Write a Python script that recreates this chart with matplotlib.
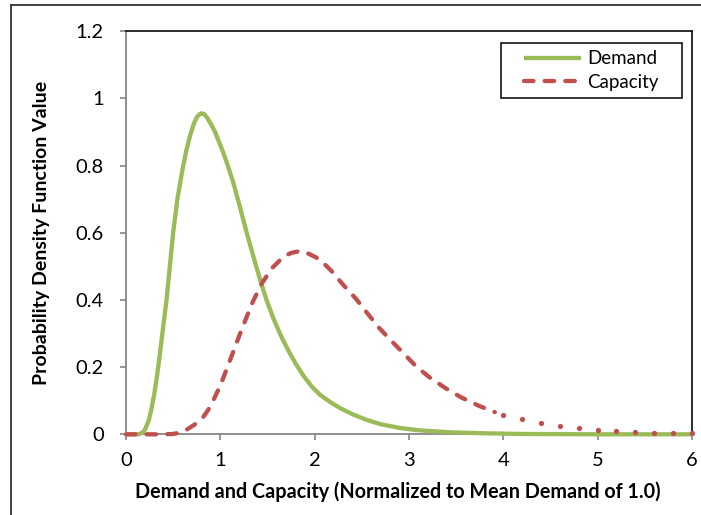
import matplotlib.pyplot as plt
from matplotlib.lines import Line2D
from matplotlib.patches import Rectangle

plt.rcParams['font.family'] = ['Lato', 'DejaVu Sans']

# values
demand_x = [0, 0.13, 0.17, 0.2, 0.24, 0.27, 0.30, 0.33, 0.36, 0.39, 0.43, 0.465, 0.50, 0.545, 0.60,
            0.64, 0.68, 0.72, 0.75, 0.78, 0.80, 0.83, 0.86, 0.90, 0.94, 0.98, 1.03, 1.08, 1.14, 1.21,
            1.28, 1.35, 1.42, 1.49, 1.56, 1.64, 1.72, 1.80, 1.88, 1.97, 2.06, 2.17, 2.27, 2.4, 2.55,
            2.7, 2.9, 3.1, 3.44, 3.8, 4.2, 5.0, 6.0]
demand_y = [0, 0, 0.004, 0.013, 0.040, 0.075, 0.12, 0.175, 0.24, 0.31, 0.40, 0.50, 0.60, 0.70, 0.79,
            0.845, 0.89, 0.925, 0.944, 0.953, 0.956, 0.953, 0.943, 0.924, 0.903, 0.875, 0.84, 0.80, 0.747, 0.675,
            0.60, 0.53, 0.462, 0.40, 0.347, 0.295, 0.25, 0.21, 0.175, 0.142, 0.117, 0.095, 0.078, 0.06, 0.043,
            0.03, 0.019, 0.012, 0.006, 0.003, 0.001, 0, 0]

capacity_x = [0, 0.2, 0.4, 0.5, 0.57, 0.65, 0.75, 0.82, 0.87, 0.91, 1.0, 1.07, 1.14, 1.21, 1.28,
              1.35, 1.44, 1.545, 1.67, 1.75, 1.83, 1.92, 2.02, 2.10, 2.18, 2.30, 2.44, 2.56, 2.68,
              2.81, 2.95, 3.08, 3.23, 3.39, 3.56, 3.74, 3.91]
capacity_y = [0, 0, 0, 0.001, 0.005, 0.015, 0.033, 0.052, 0.072, 0.092, 0.145, 0.196, 0.248, 0.30, 0.35,
              0.398, 0.449, 0.494, 0.529, 0.540, 0.545, 0.540, 0.526, 0.508, 0.486, 0.446, 0.403, 0.36, 0.318,
              0.279, 0.239, 0.201, 0.167, 0.137, 0.109, 0.085, 0.066]
# the tail of the capacity curve shows up as single dots
capacity_tail_x = [4.0, 4.2, 4.4, 4.6, 4.8, 5.0, 5.2, 5.4, 5.6, 5.8, 6.0]
capacity_tail_y = [0.057, 0.045, 0.034, 0.026, 0.019, 0.014, 0.010, 0.007, 0.005, 0.004, 0.003]

x_ticks = [0, 1, 2, 3, 4, 5, 6]
y_ticks = [0, 0.2, 0.4, 0.6, 0.8, 1, 1.2]
y_tick_labels = ['0', '0.2', '0.4', '0.6', '0.8', '1', '1.2']

green = '#9BBB59'
red = '#C0504D'

fig = plt.figure(figsize=(7.01, 5.15), dpi=100)
ax = fig.add_axes([0.1797, 0.1567, 0.8074, 0.7825])

ax.plot(demand_x, demand_y, color=green, lw=3.1, label='Demand', zorder=5, clip_on=False,
        solid_capstyle='butt', solid_joinstyle='round')
ax.plot(capacity_x, capacity_y, color=red, lw=3.1, label='Capacity', zorder=6, clip_on=False,
        dashes=(2.2, 2.6), dash_capstyle='round')
ax.plot(capacity_tail_x, capacity_tail_y, color=red, lw=0, marker='o', ms=3.8, mec='none',
        zorder=6, clip_on=False)

ax.set_xlim(0, 6)
ax.set_ylim(0, 1.2)
ax.set_xticks(x_ticks)
ax.set_yticks(y_ticks)
ax.set_yticklabels(y_tick_labels)
ax.tick_params(direction='out', length=4, width=1.2, color='#868686', labelsize=14.5)
ax.tick_params(axis='x', pad=9)
ax.tick_params(axis='y', pad=12)

for s in ['left', 'bottom']:
    ax.spines[s].set_color('#868686')
    ax.spines[s].set_linewidth(1.3)
for s in ['top', 'right']:
    ax.spines[s].set_color('#1a1a1a')
    ax.spines[s].set_linewidth(1.3)

ax.set_xlabel('Demand and Capacity (Normalized to Mean Demand of 1.0)', fontsize=14.2, fontweight='bold')
ax.xaxis.label.set_va('center')
ax.xaxis.set_label_coords(0.48, -0.143)
ax.set_ylabel('Probability Density Function Value', fontsize=14, fontweight='bold')
ax.yaxis.label.set_va('center')
ax.yaxis.set_label_coords(-0.150, 0.5)

# legend box is wider than the entries, so the frame is drawn separately
ax.add_patch(Rectangle((0.662, 0.834), 0.321, 0.138, transform=ax.transAxes, fill=True,
                       facecolor='white', edgecolor='black', lw=1.1, zorder=7))
leg = ax.legend(loc='center', bbox_to_anchor=(0.8225, 0.903), fontsize=13.5, frameon=False,
                handlelength=3.0, handletextpad=0.35, labelspacing=0.35, borderpad=0)
leg.set_zorder(8)

# outer chart border (top and left edges are visible in the reference)
fig.add_artist(Line2D([11 / 701, 1], [1 - 5 / 515, 1 - 5 / 515], color='#333333', lw=1.3))
fig.add_artist(Line2D([11 / 701, 11 / 701], [0, 1 - 5 / 515], color='#333333', lw=1.3))

fig.savefig('out.png', dpi=100)
